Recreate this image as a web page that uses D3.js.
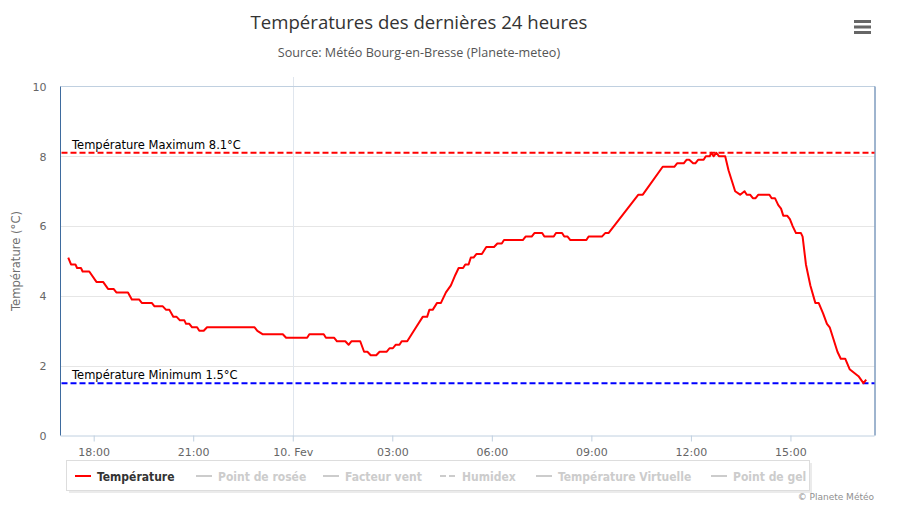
<!DOCTYPE html>
<html><head><meta charset="utf-8">
<script src="https://cdn.jsdelivr.net/npm/d3@7"></script>
<style>
html,body{margin:0;padding:0;background:#fff;}
svg{display:block;}
</style>
</head><body>
<svg id="chart" width="902" height="507"></svg>
<script>
// ---- data ----
const times = [
"09 17:14","09 17:19","09 17:27","09 17:30","09 17:37","09 17:40","09 17:52","09 18:05","09 18:17","09 18:26",
"09 18:36","09 18:41","09 19:02","09 19:09","09 19:22","09 19:27","09 19:45","09 19:50","09 20:05","09 20:11",
"09 20:17","09 20:24","09 20:30","09 20:36","09 20:44","09 20:47","09 20:53","09 20:58","09 21:07","09 21:11",
"09 21:19","09 21:25","09 22:51","09 22:56","09 23:06","09 23:42","09 23:48","10 00:26","10 00:30","10 00:56",
"10 01:00","10 01:15","10 01:20","10 01:35","10 01:41","10 01:46","10 02:02","10 02:09","10 02:15","10 02:21",
"10 02:31","10 02:37","10 02:50","10 02:55","10 03:01","10 03:06","10 03:13","10 03:17","10 03:27","10 03:35",
"10 03:43","10 03:55","10 04:03","10 04:07","10 04:13","10 04:21","10 04:28","10 04:37","10 04:46","10 04:54",
"10 05:00","10 05:08","10 05:12","10 05:18","10 05:22","10 05:27","10 05:32","10 05:42","10 05:50","10 06:04",
"10 06:10","10 06:18","10 06:22","10 06:56","10 07:01","10 07:12","10 07:17","10 07:31","10 07:35","10 07:52",
"10 07:56","10 08:07","10 08:11","10 08:17","10 08:22","10 08:51","10 08:55","10 09:19","10 09:25","10 09:31",
"10 10:25","10 10:33","10 11:09","10 11:30","10 11:35","10 11:47","10 11:52","10 11:57","10 12:04","10 12:08",
"10 12:13","10 12:23","10 12:27","10 12:34","10 12:37","10 12:41","10 12:46","10 12:51","10 13:02","10 13:08",
"10 13:14","10 13:20","10 13:29","10 13:37","10 13:41","10 13:47","10 13:52","10 13:57","10 14:02","10 14:22",
"10 14:26","10 14:32","10 14:38","10 14:43","10 14:47","10 14:54","10 14:59","10 15:04","10 15:10","10 15:19",
"10 15:22","10 15:28","10 15:36","10 15:45","10 15:51","10 15:59","10 16:06","10 16:11","10 16:17","10 16:25",
"10 16:31","10 16:39","10 16:47","10 16:55","10 17:03","10 17:12","10 17:17"
];
const temps = [
5.1,4.9,4.9,4.8,4.8,4.7,4.7,4.4,4.4,4.2,
4.2,4.1,4.1,3.9,3.9,3.8,3.8,3.7,3.7,3.6,
3.6,3.4,3.4,3.3,3.3,3.2,3.2,3.1,3.1,3.0,
3.0,3.1,3.1,3.0,2.9,2.9,2.8,2.8,2.9,2.9,
2.8,2.8,2.7,2.7,2.6,2.7,2.7,2.4,2.4,2.3,
2.3,2.4,2.4,2.5,2.5,2.6,2.6,2.7,2.7,2.9,
3.1,3.4,3.4,3.6,3.6,3.8,3.8,4.1,4.3,4.6,
4.8,4.8,4.9,4.9,5.1,5.1,5.2,5.2,5.4,5.4,
5.5,5.5,5.6,5.6,5.7,5.7,5.8,5.8,5.7,5.7,
5.8,5.8,5.7,5.7,5.6,5.6,5.7,5.7,5.8,5.8,
6.9,6.9,7.7,7.7,7.8,7.8,7.9,7.9,7.8,7.8,
7.9,7.9,8.0,8.0,8.1,8.0,8.1,8.0,8.0,7.6,
7.3,7.0,6.9,7.0,6.9,6.9,6.8,6.8,6.9,6.9,
6.8,6.8,6.6,6.5,6.3,6.3,6.2,6.0,5.8,5.8,
5.7,4.9,4.3,3.8,3.8,3.5,3.2,3.1,2.8,2.4,
2.2,2.2,1.9,1.8,1.7,1.5,1.6
];
const xDomain = ["09 17:00","10 17:32"];
const yTicks = [0,2,4,6,8,10];
const maxTemp = 8.1, minTemp = 1.5;
const legendItems = ["Température","Point de rosée","Facteur vent","Humidex","Température Virtuelle","Point de gel"];
const titleText = "Températures des dernières 24 heures";
const subtitleText = "Source: Météo Bourg-en-Bresse (Planete-meteo)";

// ---- drawing ----
const svg = d3.select("#chart");
const parse = d3.timeParse("%d %H:%M");
const data = times.map((t,i)=>({t:parse(t), v:temps[i]}));
const L=60.5, R=874.5, T=86.5, B=435.5;
const x = d3.scaleTime().domain(xDomain.map(parse)).range([L,R]);
const y = d3.scaleLinear().domain([0,10]).range([B,T]);
const font = "'DejaVu Sans', Verdana, sans-serif";

// title
svg.append("text").attr("x",419).attr("y",29).attr("text-anchor","middle")
  .style("font-family","'Open Sans', sans-serif").style("font-size","18.6px").style("fill","#333")
  .text(titleText);
svg.append("text").attr("x",419).attr("y",57).attr("text-anchor","middle")
  .style("font-family","'Open Sans', sans-serif").style("font-size","12.6px").style("fill","#555")
  .text(subtitleText);

// menu icon
[0,1,2].forEach(i=>svg.append("rect").attr("x",854).attr("y",20+i*5.5).attr("width",17).attr("height",3).attr("fill","#666"));

// gridlines
const g = svg.append("g");
g.selectAll(".hg").data(yTicks.filter(d=>d>0&&d<10)).join("line")
  .attr("x1",L).attr("x2",R).attr("y1",d=>Math.round(y(d))+0.5).attr("y2",d=>Math.round(y(d))+0.5)
  .attr("stroke","#e6e6e6");
// midnight vertical line
const xTicks = x.ticks(d3.timeHour.every(3));
xTicks.filter(d=>d.getHours()===0).forEach(d=>{
  g.append("line").attr("x1",Math.round(x(d))+0.5).attr("x2",Math.round(x(d))+0.5)
   .attr("y1",77).attr("y2",B).attr("stroke","#e0e6ee");
});
// top line
g.append("line").attr("x1",L).attr("x2",R+0.5).attr("y1",T).attr("y2",T).attr("stroke","#c0d0e0");

// x axis
const xAxis = d3.axisBottom(x).tickValues(xTicks).tickSize(6)
  .tickFormat(d=>d.getHours()===0 ? d.getDate()+". Fev" : d3.timeFormat("%H:%M")(d));
const xg = svg.append("g").attr("transform",`translate(0,${B})`).call(xAxis);
xg.select(".domain").attr("stroke","#c0d0e0").attr("d",`M${L},0.5H${R}`);
xg.selectAll(".tick line").attr("stroke","#c0d0e0");
xg.selectAll(".tick text").attr("dy",0).attr("y",20)
  .style("font-family",font).style("font-size","11px").style("fill","#666");

// y axis
const yAxis = d3.axisLeft(y).tickValues(yTicks).tickSize(0).tickPadding(14);
const yg = svg.append("g").attr("transform",`translate(${L},0)`).call(yAxis);
yg.select(".domain").remove();
yg.selectAll(".tick text").attr("dy","0.35em")
  .style("font-family",font).style("font-size","11px").style("fill","#666");
svg.append("text").attr("transform",`translate(20,${(T+B)/2}) rotate(-90)`).attr("text-anchor","middle")
  .style("font-family",font).style("font-size","11.6px").style("fill","#6d6d6d").text("Température (°C)");

// left & right axis lines
svg.append("line").attr("x1",L).attr("x2",L).attr("y1",T).attr("y2",B).attr("stroke","#3e6b9e");
svg.append("line").attr("x1",R+0.5).attr("x2",R+0.5).attr("y1",T).attr("y2",B).attr("stroke","#3e6b9e");

// plot lines
function plotLine(v,color,label){
  svg.append("line").attr("x1",L+1).attr("x2",R).attr("y1",y(v)).attr("y2",y(v))
    .attr("stroke",color).attr("stroke-width",2).attr("stroke-dasharray","6,3");
  svg.append("text").attr("x",72).attr("y",y(v)-4)
    .style("font-family",font).style("font-size","11.5px").style("fill","#000").text(label);
}
plotLine(maxTemp,"#ff0000","Température Maximum "+maxTemp+"°C");
plotLine(minTemp,"#0000ff","Température Minimum "+minTemp+"°C");

// series
const line = d3.line().x(d=>x(d.t)).y(d=>y(d.v)).curve(d3.curveLinear);
svg.append("path").datum(data).attr("d",line).attr("fill","none")
  .attr("stroke","#ff0000").attr("stroke-width",2).attr("stroke-linejoin","round");

// legend
const lg = svg.append("g");
lg.append("rect").attr("x",69).attr("y",463).attr("width",743).attr("height",30).attr("fill","#ddd").attr("opacity",0.6);
lg.append("rect").attr("x",66.5).attr("y",460.5).attr("width",743).attr("height",30)
  .attr("fill","#fff").attr("stroke","#ddd");
const legX = [75,196,323,440,536,711];
const legTexts = [];
legendItems.forEach((name,i)=>{
  const col = i===0 ? "#ff0000" : "#cccccc";
  const ln = lg.append("line").attr("x1",legX[i]).attr("x2",legX[i]+16).attr("y1",476).attr("y2",476)
    .attr("stroke",col).attr("stroke-width",2);
  if(name==="Humidex") ln.attr("stroke-dasharray","6,3");
  legTexts.push(lg.append("text").attr("x",legX[i]+22).attr("y",480.5)
    .style("font-family","'DejaVu Sans Condensed', 'DejaVu Sans', sans-serif").style("font-stretch","condensed")
    .style("font-size","12px").style("font-weight","bold")
    .style("fill",i===0?"#333":"#cccccc").text(name));
});
// fall back to a smaller size if the condensed face is not available
if (legTexts[0].node().getComputedTextLength() > 82) {
  legTexts.forEach(t=>t.style("font-size","10.8px"));
}

// credits
svg.append("text").attr("x",874).attr("y",500).attr("text-anchor","end")
  .style("font-family",font).style("font-size","9px").style("fill","#909090").text("© Planete Météo");
</script>
</body></html>
